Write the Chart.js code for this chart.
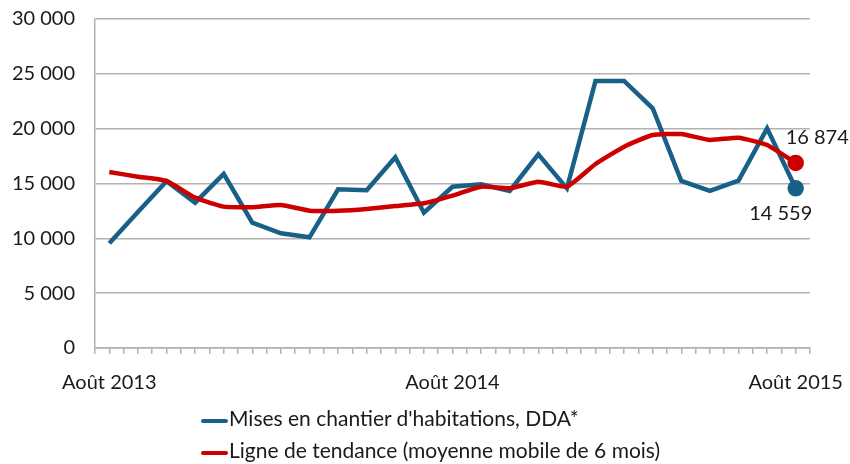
<!DOCTYPE html>
<html>
<head>
<meta charset="utf-8">
<script src="https://cdn.jsdelivr.net/npm/chart.js@4.4.0/dist/chart.umd.min.js"></script>
<style>
  html, body { margin: 0; padding: 0; background: #fff; }
  #wrap { position: relative; width: 850px; height: 464px; }
  #legend { position: absolute; left: 201px; top: 404px; font-family: Lato, sans-serif; font-size: 21px; color: #1a1a1a; }
  #legend div { height: 32px; line-height: 28px; white-space: nowrap; }
  #legend span.mk { display: inline-block; width: 27px; height: 4px; vertical-align: middle; margin-right: 1px; border-radius: 2px; }
</style>
</head>
<body>
<div id="wrap">
  <canvas id="myChart" width="850" height="464"></canvas>
  <div id="legend"></div>
</div>
<script>
(function () {
  'use strict'

  // Months, août 2013 -> août 2015
  var months = [
    'Août 2013', 'Sept. 2013', 'Oct. 2013', 'Nov. 2013', 'Déc. 2013',
    'Janv. 2014', 'Févr. 2014', 'Mars 2014', 'Avr. 2014', 'Mai 2014', 'Juin 2014', 'Juil. 2014',
    'Août 2014', 'Sept. 2014', 'Oct. 2014', 'Nov. 2014', 'Déc. 2014',
    'Janv. 2015', 'Févr. 2015', 'Mars 2015', 'Avr. 2015', 'Mai 2015', 'Juin 2015', 'Juil. 2015',
    'Août 2015'
  ]
  var shownLabels = ['Août 2013', 'Août 2014', 'Août 2015']

  var mises = [
    9550, 12400, 15200, 13250, 15870, 11430, 10460, 10090, 14470, 14380, 17390, 12340,
    14700, 14930, 14320, 17660, 14560, 24350, 24350, 21860, 15230, 14320, 15260, 20030,
    14559
  ]
  var tendance = [
    16050, 15620, 15230, 13710, 12890, 12830, 13040, 12520, 12520, 12680, 12950, 13200,
    13900, 14710, 14560, 15170, 14710, 16780, 18360, 19420, 19510, 18970, 19180, 18510,
    16874
  ]
  var yTicks = [0, 5000, 10000, 15000, 20000, 25000, 30000]

  var seriesNames = [
    "Mises en chantier d'habitations, DDA*",
    'Ligne de tendance (moyenne mobile de 6 mois)'
  ]
  var colors = {
    blue: 'rgb(24, 96, 136)',
    red: 'rgb(204, 0, 0)',
    grid: 'rgb(178, 178, 178)',
    text: '#1a1a1a'
  }

  function fmt(v) {
    return String(v).replace(/\B(?=(\d{3})+(?!\d))/g, ' ')
  }

  function toPoints(arr) {
    return arr.map(function (v, i) { return { x: i, y: v } })
  }

  var last = months.length - 1
  function lastOnly(r) {
    return function (ctx) { return ctx.dataIndex === last ? r : 0 }
  }

  // labels for the last values
  var endLabels = {
    id: 'endLabels',
    afterDatasetsDraw: function (chart) {
      var c = chart.ctx
      var xs = chart.scales.x, ys = chart.scales.y
      c.save()
      c.font = '20px Lato, sans-serif'
      c.fillStyle = colors.text
      c.textBaseline = 'middle'
      c.textAlign = 'left'
      c.fillText(fmt(tendance[last]), xs.getPixelForValue(last) - 10, ys.getPixelForValue(tendance[last]) - 25)
      c.textAlign = 'center'
      c.fillText(fmt(mises[last]), xs.getPixelForValue(last) - 15, ys.getPixelForValue(mises[last]) + 25)
      c.restore()
    }
  }

  var ctx = document.getElementById('myChart')
  // eslint-disable-next-line no-unused-vars
  var myChart = new Chart(ctx, {
    type: 'line',
    data: {
      datasets: [{
        label: seriesNames[0],
        data: toPoints(mises),
        borderColor: colors.blue,
        backgroundColor: colors.blue,
        borderWidth: 4.5,
        tension: 0,
        pointRadius: lastOnly(6),
        pointHoverRadius: 0,
        order: 2
      }, {
        label: seriesNames[1],
        data: toPoints(tendance),
        borderColor: colors.red,
        backgroundColor: colors.red,
        borderWidth: 4.5,
        tension: 0.15,
        pointRadius: lastOnly(6),
        pointHoverRadius: 0,
        order: 1
      }]
    },
    options: {
      responsive: false,
      animation: false,
      layout: { padding: { top: 19, right: 40, left: 0, bottom: 0 } },
      plugins: {
        legend: { display: false },
        tooltip: { enabled: false }
      },
      scales: {
        x: {
          type: 'linear',
          min: -0.5,
          max: months.length - 0.5,
          afterBuildTicks: function (s) {
            var t = []
            for (var v = -0.5; v <= months.length - 0.5; v += 0.5) t.push({ value: v })
            s.ticks = t
          },
          afterFit: function (s) {
            s.height = 116
            s.paddingLeft = 0
            s.paddingRight = 0
          },
          grid: { drawOnChartArea: false, color: colors.grid, lineWidth: 1.5, tickLength: 6 },
          border: { color: colors.grid, width: 1.5 },
          ticks: {
            autoSkip: false,
            maxRotation: 0,
            padding: 17,
            color: colors.text,
            font: { family: 'Lato, sans-serif', size: 20 },
            callback: function (v) {
              var m = months[v]
              return shownLabels.indexOf(m) >= 0 ? m : ''
            }
          }
        },
        y: {
          min: 0,
          max: 30000,
          afterBuildTicks: function (s) {
            s.ticks = yTicks.map(function (v) { return { value: v } })
          },
          afterFit: function (s) {
            s.width = 95
            s.paddingTop = 0
            s.paddingBottom = 0
          },
          grid: { color: colors.grid, lineWidth: 1.5, drawTicks: false },
          border: { color: colors.grid, width: 1.5 },
          ticks: {
            padding: 20,
            color: colors.text,
            font: { family: 'Lato, sans-serif', size: 20 },
            callback: function (v) { return fmt(v) }
          }
        }
      }
    },
    plugins: [endLabels]
  })

  var lg = document.getElementById('legend')
  ;[colors.blue, colors.red].forEach(function (col, i) {
    var row = document.createElement('div')
    var mk = document.createElement('span')
    mk.className = 'mk'
    mk.style.background = col
    row.appendChild(mk)
    row.appendChild(document.createTextNode(seriesNames[i]))
    lg.appendChild(row)
  })
}())
</script>
</body>
</html>
